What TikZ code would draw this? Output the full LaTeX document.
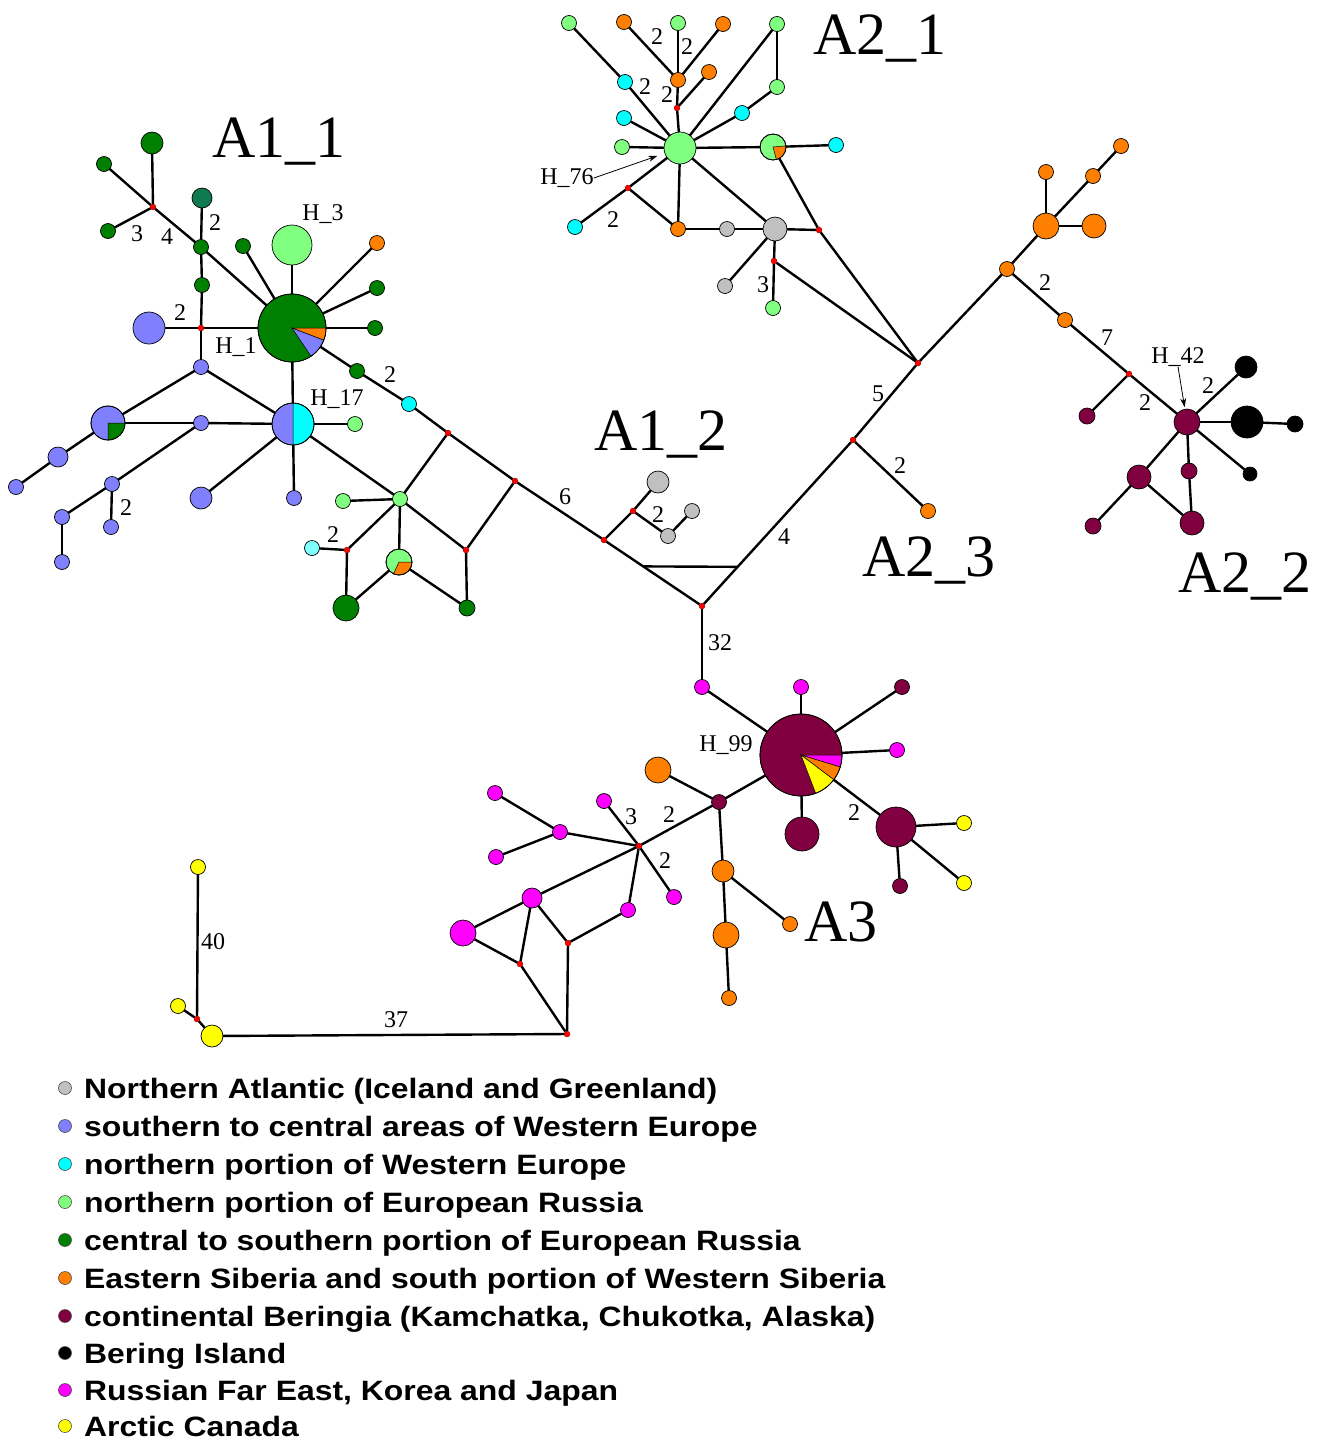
\documentclass[tikz,border=0pt]{standalone}
\usepackage{fontspec}
\usepackage{graphicx}
\setmainfont{Liberation Serif}
\newfontfamily\legfont{Liberation Sans}
\usetikzlibrary{calc,arrows.meta}
\definecolor{cgray}{HTML}{C0C0C0}
\definecolor{cperi}{HTML}{8080FF}
\definecolor{ccyan}{HTML}{00FFFF}
\definecolor{clcyan}{HTML}{80FFFF}
\definecolor{clg}{HTML}{80FF80}
\definecolor{cdg}{HTML}{008000}
\definecolor{cteal}{HTML}{0F7A4F}
\definecolor{corange}{HTML}{FF8000}
\definecolor{cmaroon}{HTML}{800040}
\definecolor{cmag}{HTML}{FF00FF}
\definecolor{cyel}{HTML}{FFFF00}
\tikzset{
 hp/.style 2 args={circle,draw=black,line width=0.7pt,inner sep=0pt,outer sep=0pt,minimum size=#1,fill=#2},
 mv/.style={circle,fill=red,draw=red!50!black,line width=0.3pt,inner sep=0pt,outer sep=0pt,minimum size=6pt},
 ln/.style={line width=2.4pt,black},
 num/.style={inner sep=0pt,font=\fontsize{24}{24}\selectfont},
 grp/.style={inner sep=0pt,anchor=base west,font=\fontsize{60}{60}\selectfont},
 leg/.style={inner sep=0pt,anchor=base west,font=\legfont\bfseries\fontsize{28}{30}\selectfont},
 lm/.style={circle,draw=black!70,line width=0.6pt,inner sep=0pt,minimum size=13pt,fill=#1},
}
\newcommand\pieslice[5]{\fill[#5,draw=black,line width=0.5pt] (#1.center) -- +(#2:#4) arc[start angle=#2,end angle=#3,radius=#4] -- cycle;}
\newcommand\pieedge[2]{\draw[line width=0.7pt] (#1.center) circle[radius=#2];}
\begin{document}
\begin{tikzpicture}[x=1pt,y=-1pt]
\fill[white] (0,0) rectangle (1335,1441);
\useasboundingbox (0,0) rectangle (1335,1441);

% ---------- A1_1 ----------
\node[hp={22pt}{cdg}] (g1) at (152,143) {};
\node[hp={15pt}{cdg}] (g2) at (104,164) {};
\node[mv] (m1) at (153,207) {};
\node[hp={15pt}{cdg}] (g3) at (108,231) {};
\node[hp={20pt}{cteal}] (tl) at (202,198) {};
\node[hp={15pt}{cdg}] (g4) at (201,247) {};
\node[hp={15pt}{cdg}] (g5) at (202,285) {};
\node[mv] (m2) at (201,328) {};
\node[hp={32pt}{cperi}] (b1) at (149,328) {};
\node[hp={68pt}{cdg}] (H1) at (292,328) {};
\node[hp={40pt}{clg}] (H3) at (292,245) {};
\node[hp={15pt}{cdg}] (g6) at (243,246) {};
\node[hp={15pt}{corange}] (o1) at (377,243) {};
\node[hp={15pt}{cdg}] (g7) at (377,288) {};
\node[hp={15pt}{cdg}] (g8) at (375,328) {};
\node[hp={15pt}{cdg}] (g9) at (357,371) {};
\node[hp={15pt}{ccyan}] (c1) at (409,404) {};
\node[mv] (m3) at (448,433) {};
\node[mv] (m4) at (515,481) {};
\node[mv] (m5) at (604,540) {};
\node[mv] (m6) at (702,606) {};
\node[hp={15pt}{cperi}] (p1) at (201,367) {};
\node[hp={42pt}{cperi}] (H17) at (293,424) {};
\node[hp={34pt}{cperi}] (pL) at (108,423) {};
\node[hp={15pt}{cperi}] (p2) at (201,423) {};
\node[hp={20pt}{cperi}] (p3) at (58,457) {};
\node[hp={15pt}{cperi}] (p4) at (16,487) {};
\node[hp={15pt}{cperi}] (p5) at (112,484) {};
\node[hp={15pt}{cperi}] (p6) at (62,517) {};
\node[hp={15pt}{cperi}] (p7) at (111,527) {};
\node[hp={15pt}{cperi}] (p8) at (62,562) {};
\node[hp={22pt}{cperi}] (p9) at (201,498) {};
\node[hp={15pt}{cperi}] (p10) at (294,498) {};
\node[hp={15pt}{clg}] (l1) at (355,424) {};
\node[hp={15pt}{clg}] (l2) at (400,499) {};
\node[hp={15pt}{clg}] (l3) at (343,501) {};
\node[mv] (m7) at (347,550) {};
\node[hp={15pt}{clcyan}] (c2) at (312,548) {};
\node[hp={26pt}{clg}] (pie2) at (399,562) {};
\node[mv] (m8) at (466,550) {};
\node[hp={26pt}{cdg}] (d1) at (346,608) {};
\node[hp={16pt}{cdg}] (d2) at (467,608) {};
\node[mv] (m9) at (633,511) {};
\node[hp={22pt}{cgray}] (gr1) at (658,482) {};
\node[hp={15pt}{cgray}] (gr2) at (668,536) {};
\node[hp={15pt}{cgray}] (gr3) at (692,511) {};
\node[mv] (m10) at (853,440) {};
\node[mv] (m11) at (918,363) {};
\node[hp={15pt}{corange}] (o2) at (928,511) {};

% ---------- A2_1 ----------
\node[hp={32pt}{clg}] (H76) at (680,148) {};
\node[hp={15pt}{clg}] (a1) at (622,147) {};
\node[hp={15pt}{ccyan}] (a2) at (624,118) {};
\node[hp={15pt}{ccyan}] (a3) at (625,82) {};
\node[hp={15pt}{clg}] (a4) at (569,23) {};
\node[hp={15pt}{corange}] (a5) at (624,22) {};
\node[hp={15pt}{clg}] (a6) at (678,23) {};
\node[hp={15pt}{corange}] (a7) at (723,24) {};
\node[hp={15pt}{corange}] (a8) at (678,80) {};
\node[hp={15pt}{corange}] (a9) at (709,72) {};
\node[mv] (m12) at (677,108) {};
\node[hp={15pt}{clg}] (a10) at (777,24) {};
\node[hp={15pt}{clg}] (a11) at (777,87) {};
\node[hp={15pt}{ccyan}] (a12) at (742,113) {};
\node[hp={26pt}{clg}] (pie3) at (773,147) {};
\node[hp={15pt}{ccyan}] (a13) at (836,145) {};
\node[mv] (m13) at (628,188) {};
\node[hp={15pt}{ccyan}] (a14) at (575,227) {};
\node[hp={15pt}{corange}] (a15) at (678,229) {};
\node[hp={15pt}{cgray}] (a16) at (727,229) {};
\node[hp={24pt}{cgray}] (gr4) at (775,229) {};
\node[mv] (m14) at (819,230) {};
\node[mv] (m15) at (774,261) {};
\node[hp={15pt}{cgray}] (a17) at (725,286) {};
\node[hp={15pt}{clg}] (a18) at (773,308) {};

% ---------- A2_2 ----------
\node[hp={15pt}{corange}] (e1) at (1007,269) {};
\node[hp={26pt}{corange}] (e2) at (1046,226) {};
\node[hp={24pt}{corange}] (e3) at (1094,226) {};
\node[hp={15pt}{corange}] (e4) at (1046,172) {};
\node[hp={15pt}{corange}] (e5) at (1093,176) {};
\node[hp={15pt}{corange}] (e6) at (1121,146) {};
\node[hp={15pt}{corange}] (e7) at (1065,320) {};
\node[mv] (m16) at (1129,374) {};
\node[hp={16pt}{cmaroon}] (e8) at (1087,416) {};
\node[hp={26pt}{cmaroon}] (H42) at (1187,422) {};
\node[hp={22pt}{black}] (k1) at (1246,367) {};
\node[hp={32pt}{black}] (k2) at (1247,422) {};
\node[hp={16pt}{black}] (k3) at (1295,424) {};
\node[hp={14pt}{black}] (k4) at (1250,474) {};
\node[hp={16pt}{cmaroon}] (e9) at (1189,471) {};
\node[hp={24pt}{cmaroon}] (e10) at (1139,477) {};
\node[hp={24pt}{cmaroon}] (e11) at (1192,523) {};
\node[hp={16pt}{cmaroon}] (e12) at (1093,526) {};

% ---------- A3 ----------
\node[hp={15pt}{cmag}] (f1) at (702,687) {};
\node[hp={82pt}{cmaroon}] (H99) at (801,755) {};
\node[hp={15pt}{cmag}] (f2) at (801,687) {};
\node[hp={15pt}{cmaroon}] (f3) at (902,687) {};
\node[hp={15pt}{cmag}] (f4) at (897,750) {};
\node[hp={34pt}{cmaroon}] (f5) at (802,834) {};
\node[hp={40pt}{cmaroon}] (f6) at (896,827) {};
\node[hp={15pt}{cyel}] (f7) at (964,823) {};
\node[hp={15pt}{cyel}] (f8) at (964,883) {};
\node[hp={15pt}{cmaroon}] (f9) at (900,886) {};
\node[hp={15pt}{cmaroon}] (f10) at (719,802) {};
\node[hp={26pt}{corange}] (f11) at (658,770) {};
\node[mv] (m17) at (639,846) {};
\node[hp={15pt}{cmag}] (f12) at (604,801) {};
\node[hp={15pt}{cmag}] (f13) at (674,897) {};
\node[hp={15pt}{cmag}] (f14) at (628,910) {};
\node[hp={15pt}{cmag}] (f15) at (560,832) {};
\node[hp={15pt}{cmag}] (f16) at (495,793) {};
\node[hp={15pt}{cmag}] (f17) at (496,857) {};
\node[hp={20pt}{cmag}] (f18) at (532,898) {};
\node[hp={26pt}{cmag}] (f19) at (463,933) {};
\node[mv] (m18) at (520,964) {};
\node[mv] (m19) at (568,943) {};
\node[mv] (m20) at (567,1034) {};
\node[hp={22pt}{corange}] (f20) at (723,871) {};
\node[hp={26pt}{corange}] (f21) at (726,935) {};
\node[hp={15pt}{corange}] (f22) at (729,998) {};
\node[hp={15pt}{corange}] (f23) at (790,924) {};
\node[hp={15pt}{cyel}] (y1) at (198,867) {};
\node[hp={15pt}{cyel}] (y2) at (178,1006) {};
\node[mv] (m21) at (197,1019) {};
\node[hp={22pt}{cyel}] (y3) at (212,1036) {};

% ---------- pie slices ----------
\pieslice{H1}{0}{21}{34}{corange}
\pieslice{H1}{21}{56}{34}{cperi}
\pieedge{H1}{34}
\pieslice{H17}{-90}{90}{21}{ccyan}
\pieedge{H17}{21}
\pieslice{pL}{0}{90}{17}{cdg}
\pieedge{pL}{17}
\pieslice{pie2}{0}{115}{13}{corange}
\pieedge{pie2}{13}
\pieslice{pie3}{-5}{75}{13}{corange}
\pieedge{pie3}{13}
\pieslice{H99}{0}{17}{41}{cmag}
\pieslice{H99}{17}{37}{41}{corange}
\pieslice{H99}{37}{69}{41}{cyel}
\pieedge{H99}{41}

% ---------- connectors ----------
\foreach \a/\b in {g1/m1,g2/m1,g3/m1,m1/g4,g4/H1,tl/g4,g4/g5,g5/m2,b1/m2,m2/H1,g6/H1,H3/H1,o1/H1,g7/H1,g8/H1,H1/g9,g9/c1,c1/m3,m3/m4,m4/m5,m5/m6,H1/H17,m2/p1,p1/pL,p1/H17,pL/p2,p2/H17,pL/p3,p3/p4,p5/p2,p5/p6,p6/p8,p5/p7,H17/p9,H17/p10,H17/l1,H17/l2,l2/l3,l2/m3,l2/m7,m7/c2,m7/d1,l2/pie2,pie2/d1,l2/m8,m8/m4,m8/d2,pie2/d2,m5/m9,m9/gr1,m9/gr2,gr2/gr3,m6/m10,m10/m11,m10/o2,m6/f1}
  \draw[ln] (\a) -- (\b);
\foreach \a/\b in {H76/a1,H76/a2,H76/a3,a3/a4,H76/m12,m12/a8,a8/a5,a8/a6,a8/a7,m12/a9,H76/a10,a10/a11,a11/a12,a12/H76,H76/pie3,pie3/a13,H76/m13,m13/a14,m13/a15,H76/a15,H76/gr4,a15/a16,a16/gr4,gr4/m14,gr4/a17,gr4/m15,m15/a18,m15/m11,m14/m11,pie3/m14}
  \draw[ln] (\a) -- (\b);
\foreach \a/\b in {m11/e1,e1/e2,e2/e5,e5/e6,e2/e4,e2/e3,e1/e7,e7/m16,m16/H42,m16/e8,H42/k1,H42/k2,k2/k3,H42/k4,H42/e9,e9/e11,H42/e10,e10/e12,e10/e11}
  \draw[ln] (\a) -- (\b);
\foreach \a/\b in {f1/H99,f2/H99,f3/H99,f4/H99,H99/f5,H99/f6,f6/f7,f6/f8,f6/f9,H99/f10,f10/f11,f10/m17,f10/f20,f20/f21,f21/f22,f20/f23,m17/f12,m17/f13,m17/f14,m17/f15,f15/f16,f15/f17,m17/f18,f18/f19,f18/m18,f19/m18,f18/m19,f14/m19,m19/m20,m18/m20,m20/y3,y1/m21,y2/m21,m21/y3}
  \draw[ln] (\a) -- (\b);
\coordinate (bar1) at ($(m5)!0.4!(m6)$);
\coordinate (bar2) at ($(m6)!0.236!(m10)$);
\draw[ln] (bar1) -- (bar2);

% ---------- group labels ----------
\node[grp] (tA11) at (212,157) {A1\_1};
\node[grp] (tA21) at (813,54) {A2\_1};
\node[grp] (tA12) at (594,450) {A1\_2};
\node[grp] (tA23) at (862,576) {A2\_3};
\node[grp] (tA22) at (1178,592) {A2\_2};
\node[grp] (tA3) at (804,941) {A3};

% ---------- small labels ----------
\node[num] (n1) at (137,234) {3};
\node[num] (n2) at (167,237) {4};
\node[num] (n3) at (215,223) {2};
\node[num] (n4) at (180,313) {2};
\node[num] (hl1) at (236,347) {H\_1};
\node[num] (hl3) at (323,214) {H\_3};
\node[num] (n5) at (390,375) {2};
\node[num] (hl17) at (337,399) {H\_17};
\node[num] (n6) at (126,508) {2};
\node[num] (n7) at (333,535) {2};
\node[num] (n8) at (565,497) {6};
\node[num] (n9) at (658,515) {2};
\node[num] (n10) at (720,643) {32};
\node[num] (n11) at (784,537) {4};
\node[num] (n12) at (878,394) {5};
\node[num] (n13) at (900,466) {2};
\node[num] (n14) at (763,285) {3};
\node[num] (n15) at (657,37) {2};
\node[num] (n16) at (687,47) {2};
\node[num] (n17) at (645,87) {2};
\node[num] (n18) at (667,95) {2};
\node[num] (n19) at (613,220) {2};
\node[num] (hl76) at (567,178) {H\_76};
\node[num] (n20) at (1045,283) {2};
\node[num] (n21) at (1107,338) {7};
\node[num] (n22) at (1145,403) {2};
\node[num] (n23) at (1208,386) {2};
\node[num] (hl42) at (1178,357) {H\_42};
\node[num] (n24) at (631,817) {3};
\node[num] (n25) at (669,815) {2};
\node[num] (n26) at (665,861) {2};
\node[num] (n27) at (854,813) {2};
\node[num] (hl99) at (726,745) {H\_99};
\node[num] (n28) at (213,942) {40};
\node[num] (n29) at (396,1020) {37};

\draw[line width=0.8pt,-{Stealth[length=9pt,width=6pt]},shorten >=8pt] (hl76.east) -- (H76);
\draw[line width=0.8pt,-{Stealth[length=9pt,width=6pt]},shorten >=2pt] (hl42.south) -- (H42);

% ---------- legend ----------
\node[lm=cgray] (k01) at (65,1088) {};
\node[leg] (t01) at (84,1098) {\scalebox{1.14}[1]{Northern Atlantic (Iceland and Greenland)}};
\node[lm=cperi] (k02) at (65,1126) {};
\node[leg] (t02) at (84,1136) {\scalebox{1.14}[1]{southern to central areas of Western Europe}};
\node[lm=ccyan] (k03) at (65,1164) {};
\node[leg] (t03) at (84,1174) {\scalebox{1.14}[1]{northern portion of Western Europe}};
\node[lm=clg] (k04) at (65,1202) {};
\node[leg] (t04) at (84,1212) {\scalebox{1.14}[1]{northern portion of European Russia}};
\node[lm=cdg] (k05) at (65,1240) {};
\node[leg] (t05) at (84,1250) {\scalebox{1.14}[1]{central to southern portion of European Russia}};
\node[lm=corange] (k06) at (65,1278) {};
\node[leg] (t06) at (84,1288) {\scalebox{1.14}[1]{Eastern Siberia and south portion of Western Siberia}};
\node[lm=cmaroon] (k07) at (65,1316) {};
\node[leg] (t07) at (84,1326) {\scalebox{1.14}[1]{continental Beringia (Kamchatka, Chukotka, Alaska)}};
\node[lm=black] (k08) at (65,1353) {};
\node[leg] (t08) at (84,1363) {\scalebox{1.14}[1]{Bering Island}};
\node[lm=cmag] (k09) at (65,1390) {};
\node[leg] (t09) at (84,1400) {\scalebox{1.14}[1]{Russian Far East, Korea and Japan}};
\node[lm=cyel] (k10) at (65,1426) {};
\node[leg] (t10) at (84,1436) {\scalebox{1.14}[1]{Arctic Canada}};
\end{tikzpicture}
\end{document}
